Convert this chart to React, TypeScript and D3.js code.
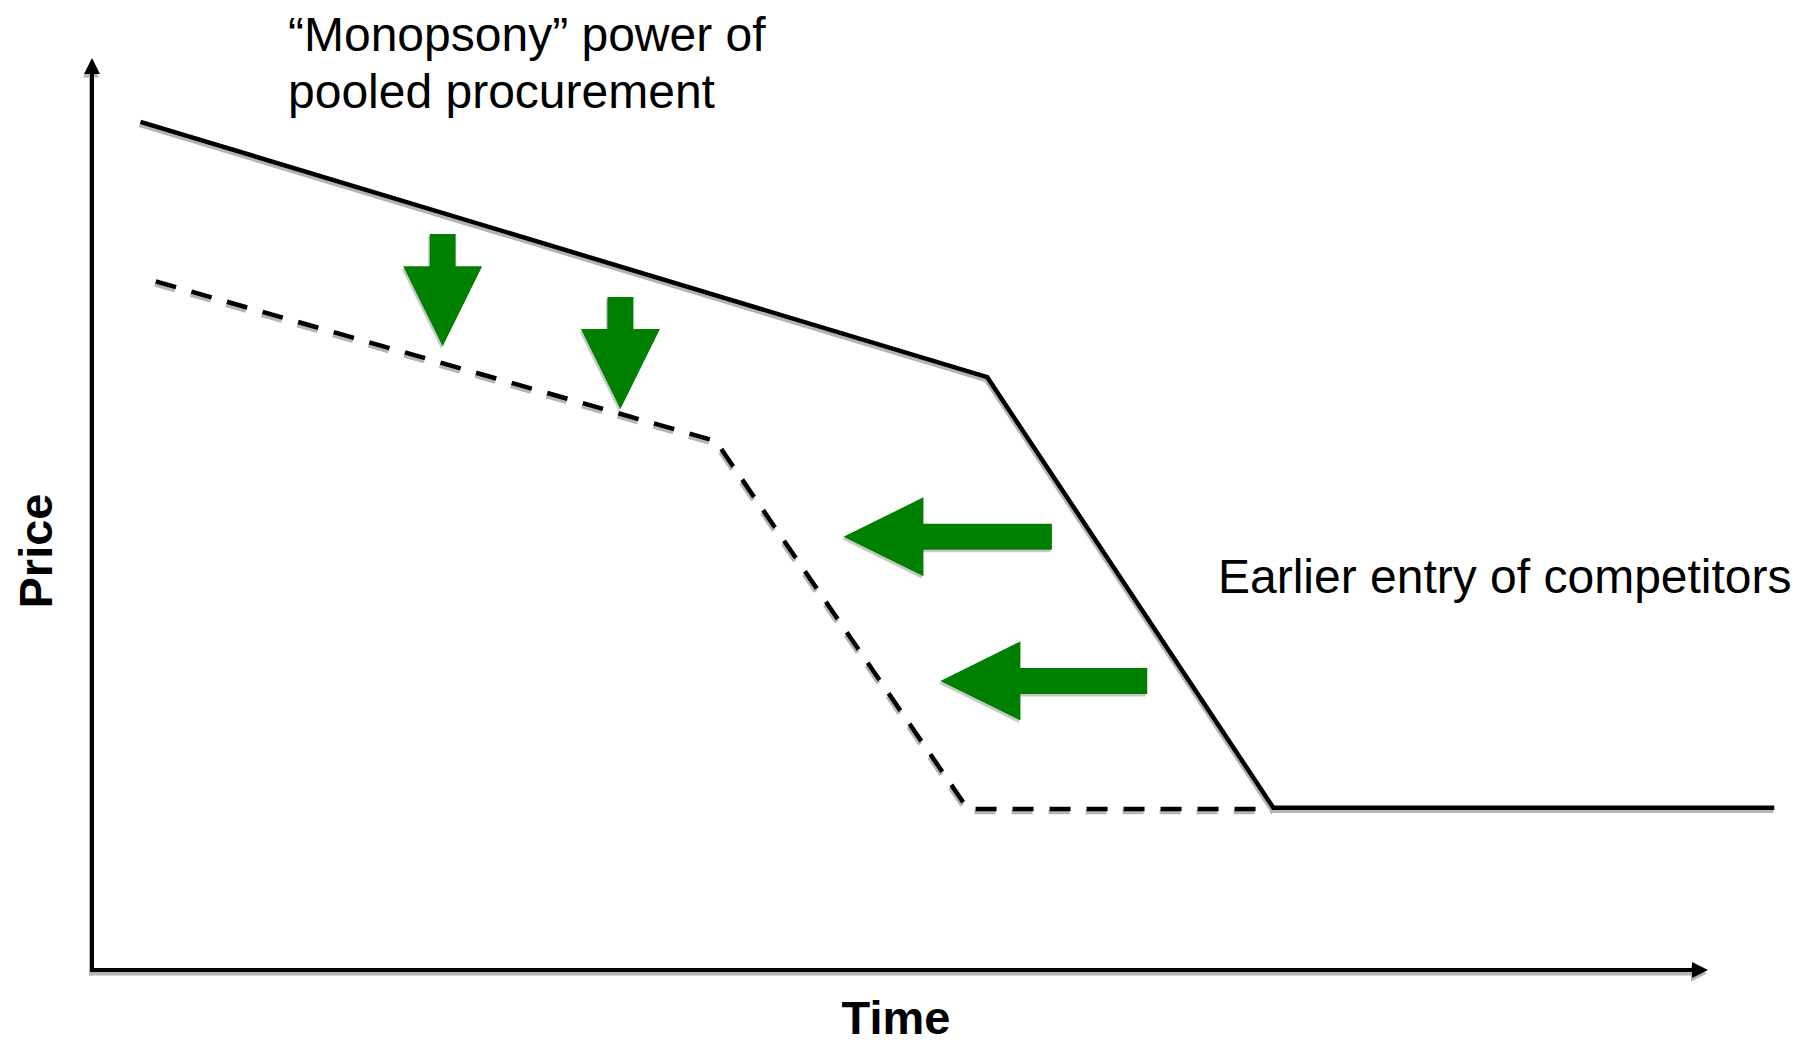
import React, { useEffect, useRef } from 'react'
import * as d3 from 'd3'

// price path before pooled procurement (solid) and after (dashed)
const timeCurrent = [3, 55.4, 73.1, 104.1]
const priceCurrent = [93, 65, 17.8, 17.8]
const timePooled = [3.95, 38.6, 54.2, 73.1]
const pricePooled = [75.5, 58, 17.65, 17.65]

// green arrows: tip position and tail position (data units)
const arrowTipTime = [21.7, 32.7, 46.5, 52.5]
const arrowTipPrice = [68.4, 61.5, 47.5, 31.7]
const arrowTailTime = [21.7, 32.7, 59.4, 65.3]
const arrowTailPrice = [80.7, 73.8, 47.5, 31.7]

const titleLines = ['\u201CMonopsony\u201D power of', 'pooled procurement']
const sideLabel = 'Earlier entry of competitors'
const xLabel = 'Time'
const yLabel = 'Price'

const App = () => {
  const svgRef = useRef(null)

  useEffect(() => {
    const width = 1796
    const height = 1045
    const svg = d3.select(svgRef.current)
    svg.selectAll('*').remove()
    svg.attr('width', width).attr('height', height)

    const x = d3.scaleLinear().domain([0, 100]).range([92, 1708])
    const y = d3.scaleLinear().domain([0, 100]).range([970, 58])
    const shadow = '#b4b4b4'
    const font = '"Liberation Sans", Arial, Helvetica, sans-serif'

    const line = d3
      .line<[number, number]>()
      .x((d) => x(d[0]))
      .y((d) => y(d[1]))

    // axes with arrow heads
    const axisG = svg.append('g')
    const [x0, x1] = x.range()
    const [y0, y1] = y.range()
    const drawAxes = (g, color, dx, dy) => {
      const a = g.append('g').attr('transform', `translate(${dx},${dy})`)
      a.append('line')
        .attr('x1', x0).attr('x2', x1 - 10)
        .attr('y1', y0).attr('y2', y0)
        .attr('stroke', color).attr('stroke-width', 4)
      a.append('line')
        .attr('x1', x0).attr('x2', x0)
        .attr('y1', y0 + 2).attr('y2', y1 + 10)
        .attr('stroke', color).attr('stroke-width', 4)
      a.append('path')
        .attr('d', `M${x1},${y0} L${x1 - 16},${y0 - 8} L${x1 - 16},${y0 + 8} Z`)
        .attr('fill', color)
      a.append('path')
        .attr('d', `M${x0},${y1} L${x0 - 8},${y1 + 16} L${x0 + 8},${y1 + 16} Z`)
        .attr('fill', color)
    }
    drawAxes(axisG, shadow, -1, 3.5)
    drawAxes(axisG, '#000', 0, 0)

    // price lines
    const current = timeCurrent.map((t, i) => [t, priceCurrent[i]] as [number, number])
    const pooled = timePooled.map((t, i) => [t, pricePooled[i]] as [number, number])

    const drawLine = (data, dashed) => {
      ;[
        { c: shadow, dx: -1, dy: 3 },
        { c: '#000', dx: 0, dy: 0 },
      ].forEach((s) => {
        svg
          .append('path')
          .attr('d', line(data))
          .attr('transform', `translate(${s.dx},${s.dy})`)
          .attr('fill', 'none')
          .attr('stroke', s.c)
          .attr('stroke-width', 4.5)
          .attr('stroke-linejoin', 'miter')
          .attr('stroke-dasharray', dashed ? '21 16' : null)
      })
    }
    drawLine(pooled, true)
    drawLine(current, false)

    // green block arrows
    const shaftW = 26
    const headW = 79
    const headL = 80
    arrowTipTime.forEach((t, i) => {
      const tx = x(t)
      const ty = y(arrowTipPrice[i])
      const ex = x(arrowTailTime[i])
      const ey = y(arrowTailPrice[i])
      const len = Math.hypot(ex - tx, ey - ty)
      const ang = (Math.atan2(ey - ty, ex - tx) * 180) / Math.PI
      // arrow drawn pointing to -x, then rotated
      const pts = [
        [0, 0],
        [headL, -headW / 2],
        [headL, -shaftW / 2],
        [len, -shaftW / 2],
        [len, shaftW / 2],
        [headL, shaftW / 2],
        [headL, headW / 2],
      ]
      const d = 'M' + pts.map((p) => p.join(',')).join('L') + 'Z'
      svg
        .append('path')
        .attr('d', d)
        .attr('transform', `translate(${tx - 1.5},${ty + 2.5}) rotate(${ang})`)
        .attr('fill', '#c8c8c8')
      svg
        .append('path')
        .attr('d', d)
        .attr('transform', `translate(${tx},${ty}) rotate(${ang})`)
        .attr('fill', '#008000')
    })

    // annotations
    svg
      .append('text')
      .attr('x', 288)
      .attr('y', 51)
      .style('font-family', font)
      .style('font-size', '48px')
      .selectAll('tspan')
      .data(titleLines)
      .enter()
      .append('tspan')
      .attr('x', 288)
      .attr('dy', (d, i) => (i === 0 ? 0 : 57))
      .text((d) => d)

    svg
      .append('text')
      .attr('x', 1218)
      .attr('y', 593)
      .style('font-family', font)
      .style('font-size', '48px')
      .text(sideLabel)

    svg
      .append('text')
      .attr('x', 896)
      .attr('y', 1034)
      .attr('text-anchor', 'middle')
      .style('font-family', font)
      .style('font-size', '47px')
      .style('font-weight', 'bold')
      .text(xLabel)

    svg
      .append('text')
      .attr('transform', 'translate(52,551) rotate(-90)')
      .attr('text-anchor', 'middle')
      .style('font-family', font)
      .style('font-size', '47px')
      .style('font-weight', 'bold')
      .text(yLabel)
  }, [])

  return (
    <svg
      ref={svgRef}
      style={{ position: 'absolute', left: 0, top: 0, display: 'block', background: '#fff' }}
    ></svg>
  )
}

export default App
